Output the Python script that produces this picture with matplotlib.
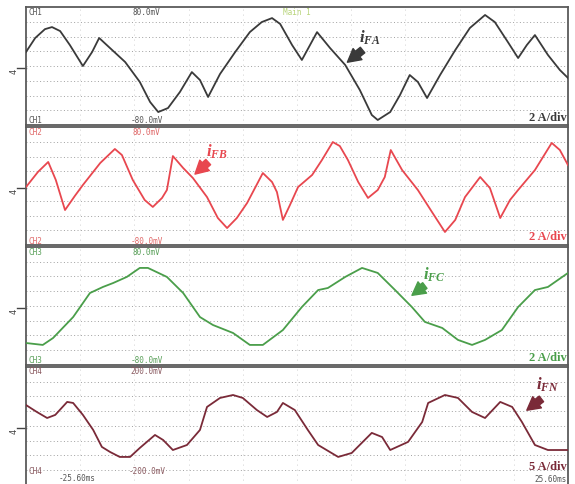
import matplotlib.pyplot as plt

plt.rcParams['mathtext.fontset'] = 'custom'
plt.rcParams['mathtext.it'] = 'Liberation Serif:italic:bold'
plt.rcParams['mathtext.rm'] = 'Liberation Serif:bold'

# screen positions in divisions (10 horizontal x 8 vertical)
x_fa = [0, 0.17, 0.35, 0.48, 0.63, 0.81, 1.05, 1.22, 1.35, 1.55, 1.83, 2.10, 2.29, 2.44, 2.62,
        2.84, 3.06, 3.21, 3.36, 3.58, 3.86, 4.13, 4.35, 4.54, 4.69, 4.91, 5.09, 5.24, 5.37, 5.61,
        5.89, 6.16, 6.38, 6.49, 6.72, 6.90, 7.08, 7.23, 7.40, 7.64, 7.92, 8.19, 8.47, 8.65, 8.89,
        9.08, 9.24, 9.39, 9.63, 9.85, 10.0]
i_fa = [0.95, 1.9, 2.5, 2.64, 2.37, 1.42, 0.0, 0.95, 1.9, 1.22, 0.27, -1.08, -2.44, -3.12, -2.85,
        -1.76, -0.41, -0.95, -2.10, -0.54, 0.95, 2.3, 2.98, 3.25, 2.85, 1.42, 0.41, 1.42, 2.3, 1.22,
        0.07, -1.63, -3.32, -3.66, -3.12, -1.97, -0.61, -1.08, -2.17, -0.61, 1.08, 2.58, 3.46, 2.98, 1.63,
        0.54, 1.42, 2.1, 0.75, -0.27, -0.81]

x_fb = [0, 0.22, 0.41, 0.55, 0.72, 0.90, 1.05, 1.37, 1.64, 1.77, 1.97, 2.19, 2.34, 2.51, 2.60,
        2.71, 2.90, 3.08, 3.34, 3.54, 3.71, 3.89, 4.08, 4.37, 4.54, 4.63, 4.74, 4.87, 5.02, 5.28,
        5.46, 5.66, 5.79, 5.94, 6.13, 6.31, 6.49, 6.62, 6.73, 6.94, 7.23, 7.49, 7.73, 7.92, 8.10,
        8.38, 8.56, 8.75, 8.93, 9.08, 9.39, 9.70, 9.85, 10.0]
i_fb = [-0.07, 0.95, 1.63, 0.41, -1.63, -0.68, 0.07, 1.56, 2.51, 2.10, 0.41, -0.95, -1.42, -0.81, -0.27,
        2.03, 1.22, 0.54, -0.75, -2.17, -2.85, -2.17, -1.15, 0.88, 0.27, -0.41, -2.30, -1.29, -0.07, 0.75,
        1.76, 2.98, 2.71, 1.76, 0.27, -0.81, -0.27, 0.61, 2.44, 1.08, -0.27, -1.76, -3.12, -2.30, -0.75,
        0.61, -0.14, -2.17, -0.95, -0.27, 1.08, 2.92, 2.44, 1.42]

x_fc = [0, 0.31, 0.50, 0.87, 1.18, 1.42, 1.61, 1.86, 2.10, 2.25, 2.60, 2.90, 3.21, 3.45, 3.82,
        4.13, 4.37, 4.74, 5.09, 5.39, 5.57, 5.89, 6.20, 6.49, 6.81, 7.12, 7.36, 7.68, 7.97, 8.23,
        8.47, 8.78, 9.08, 9.39, 9.63, 10.0]
i_fc = [-2.51, -2.64, -2.17, -0.75, 0.88, 1.29, 1.56, 1.97, 2.58, 2.58, 1.97, 0.88, -0.75, -1.29, -1.83,
        -2.64, -2.64, -1.63, -0.07, 1.08, 1.22, 1.97, 2.58, 2.24, 1.08, -0.07, -1.08, -1.49, -2.30, -2.64,
        -2.30, -1.63, -0.07, 1.08, 1.29, 2.24]

x_fn = [0, 0.20, 0.39, 0.54, 0.76, 0.87, 1.05, 1.24, 1.40, 1.55, 1.73, 1.92, 2.10, 2.38, 2.53,
        2.71, 2.97, 3.21, 3.34, 3.58, 3.82, 4.00, 4.26, 4.45, 4.63, 4.74, 4.96, 5.20, 5.39, 5.76,
        6.01, 6.38, 6.57, 6.72, 7.05, 7.31, 7.42, 7.73, 7.97, 8.23, 8.47, 8.75, 8.97, 9.15, 9.39,
        9.63, 10.0]
i_fn = [1.42, 0.95, 0.54, 0.75, 1.63, 1.56, 0.75, -0.27, -1.42, -1.76, -2.10, -2.10, -1.49, -0.61, -0.95,
        -1.63, -1.29, -0.27, 1.29, 1.90, 2.10, 1.90, 1.08, 0.61, 0.95, 1.56, 1.08, -0.27, -1.29, -2.10,
        -1.83, -0.47, -0.75, -1.63, -1.08, 0.27, 1.56, 2.10, 1.90, 0.95, 0.54, 1.63, 1.29, 0.27, -1.29,
        -1.63, -1.63]

channels = ['CH1', 'CH2', 'CH3', 'CH4']
top_lbls = ['80.0mV', '80.0mV', '80.0mV', '200.0mV']
bot_lbls = ['-80.0mV', '-80.0mV', '-80.0mV', '-200.0mV']
scales = ['2 A/div', '2 A/div', '2 A/div', '5 A/div']
names = ['FA', 'FB', 'FC', 'FN']

colors = ['#3a3a3a', '#e8474f', '#4a9e4a', '#7a2a38']
lbl_colors = ['#555555', '#e06a6a', '#5aa05a', '#8a5a60']
series = [(x_fa, i_fa), (x_fb, i_fb), (x_fc, i_fc), (x_fn, i_fn)]
bottoms = [0.7417, 0.4938, 0.2459, -0.002]
name_pos = [(6.35, 1.9), (3.52, 2.3), (7.53, 2.1), (9.63, 2.78)]
arrows = [((6.25, 1.2), (5.89, 0.14)), ((3.4, 1.75), (3.08, 0.68)),
          ((7.4, 1.5), (7.08, 0.61)), ((9.55, 1.95), (9.2, 0.95))]
scale_y = [-3.5, -3.46, -3.5, -2.75]
bot_y = [-3.66, -3.73, -3.7, -3.12]

fig = plt.figure(figsize=(5.75, 4.84), dpi=100)

for k in range(4):
    ax = fig.add_axes([0.0452, bottoms[k], 0.9426, 0.2438])
    ax.set_xlim(0, 10)
    ax.set_ylim(-4, 4)
    ax.set_xticks([])
    ax.set_yticks([])
    for s in ax.spines.values():
        s.set_color('#5a5a5a')
        s.set_linewidth(1.3)
    for g in range(-3, 4):
        ax.axhline(g, color='#a0a0a0', lw=0.7, ls=(0, (1, 2.5)), zorder=1)
    for g in range(1, 10):
        ax.axvline(g, color='#c0c0c0', lw=0.6, ls=(0, (1, 5)), zorder=1)
    x, y = series[k]
    ax.plot(x, y, color=colors[k], lw=1.3, zorder=3)

    ax.text(0.05, 3.66, channels[k], fontsize=5.5, family='DejaVu Sans Mono',
            color=lbl_colors[k], va='center')
    ax.text(2.23, 3.66, top_lbls[k], fontsize=5.5, family='DejaVu Sans Mono',
            color=lbl_colors[k], va='center', ha='center')
    ax.text(0.05, bot_y[k], channels[k], fontsize=5.5, family='DejaVu Sans Mono',
            color=lbl_colors[k], va='center')
    ax.text(2.23, bot_y[k], bot_lbls[k], fontsize=5.5, family='DejaVu Sans Mono',
            color=lbl_colors[k], va='center', ha='center')
    ax.text(9.97, scale_y[k], scales[k], fontsize=9, family='Liberation Serif',
            weight='bold', color=colors[k], ha='right', va='center')

    ax.text(name_pos[k][0], name_pos[k][1], '$i_{%s}$' % names[k], fontsize=12,
            color=colors[k], ha='center', va='center')
    ax.annotate('', xy=arrows[k][1], xytext=arrows[k][0],
                arrowprops=dict(arrowstyle='simple,head_length=0.55,head_width=0.6,tail_width=0.3',
                                color=colors[k], mutation_scale=17))

    # ground marker on the left edge
    ax.plot([-0.16, 0], [-0.15, -0.15], color='#444444', lw=1, clip_on=False)
    ax.text(-0.22, -0.35, '4', fontsize=6, color='#444444', rotation=90,
            ha='center', va='center', clip_on=False)

    if k == 0:
        ax.text(5.0, 3.66, 'Main 1', fontsize=5.5, family='DejaVu Sans Mono',
                color='#b8d47a', ha='center', va='center')
    if k == 3:
        ax.text(0.95, -3.58, '-25.60ms', fontsize=5.5, family='DejaVu Sans Mono',
                color='#555555', ha='center', va='center')
        ax.text(9.97, -3.6, '25.60ms', fontsize=5.5, family='DejaVu Sans Mono',
                color='#555555', ha='right', va='center')

fig.savefig('out.png', dpi=100)
